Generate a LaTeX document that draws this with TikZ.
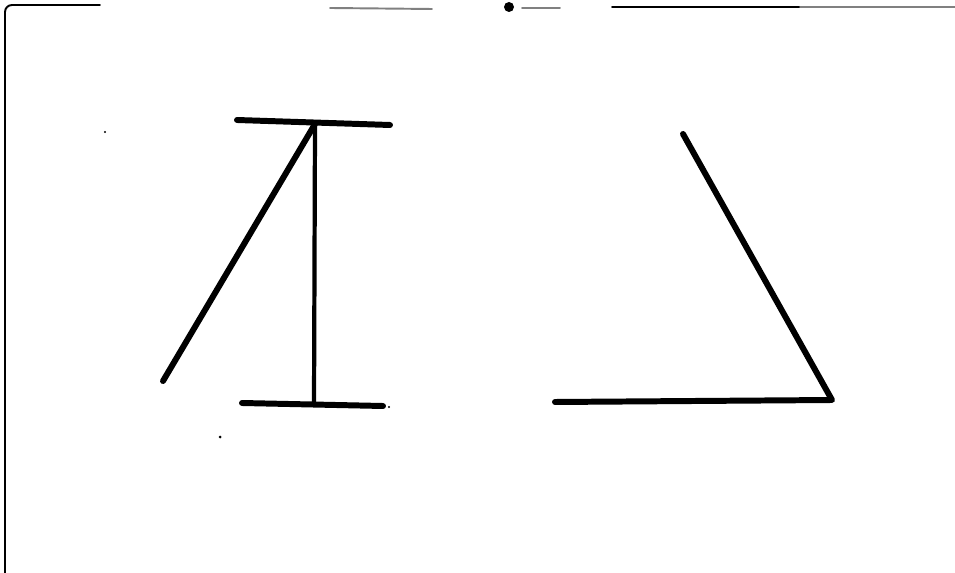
\documentclass[tikz,border=0pt]{standalone}
\usepackage{tikz}
\usetikzlibrary{calc}

\begin{document}
\begin{tikzpicture}[x=0.02cm,y=-0.02cm,line cap=round,line join=round,
    bar/.style={line width=3.4pt},
    post/.style={line width=2.4pt},
    frame/.style={line width=1.1pt}]
    \useasboundingbox (0,0) rectangle (955,573);
    \coordinate (apex) at (315,124);
    \coordinate (foot) at (314,404);
    \coordinate (corner) at (832,400);
    \draw[frame] (5,573) -- (5,12) arc (180:270:7) -- (100,5);
    \draw[frame,gray] (330,8) -- (432,9);
    \draw[frame,gray] (522,8) -- (560,8);
    \fill (509,7) circle (5);
    \draw[frame] (612,7) -- (800,7);
    \draw[frame,gray] (800,7) -- (955,7);
    \draw[bar] (237,120) -- (390,125);
    \draw[post] (apex) -- (foot);
    \draw[bar] (apex) -- (163,381);
    \draw[bar] (242,403) -- (383,406);
    \draw[bar] (683,134) -- (corner) -- (555,402);
    \fill (105,132) circle (1.2);
    \fill (220,437) circle (1.5);
    \fill (389,407) circle (1.2);
\end{tikzpicture}
\end{document}
